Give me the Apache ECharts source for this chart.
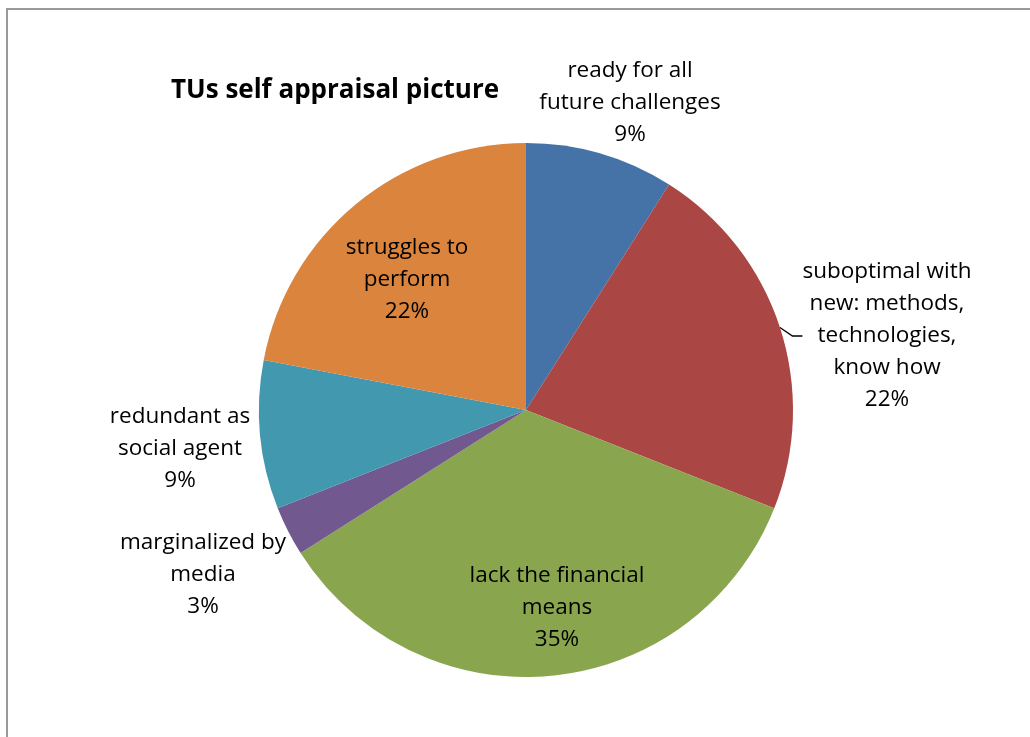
<!DOCTYPE html>
<html>
<head>
<meta charset="utf-8">
<script src="https://cdn.jsdelivr.net/npm/echarts@6/dist/echarts.min.js"></script>
<style>html,body{margin:0;padding:0;background:#fff;}#c{width:1030px;height:737px;}</style>
</head>
<body>
<div id="c"></div>
<script>
const categories = [
  'ready for all\nfuture challenges',
  'suboptimal with\nnew: methods,\ntechnologies,\nknow how',
  'lack the financial\nmeans',
  'marginalized by\nmedia',
  'redundant as\nsocial agent',
  'struggles to\nperform'
];
const values = [9, 22, 35, 3, 9, 22];
const colors = ['#4572A7', '#AA4643', '#89A54E', '#71588F', '#4198AF', '#DB843D'];
// label anchor positions (label layout only)
const labelPos = [[630, 103], [887, 336], [557, 608], [203, 575], [180, 449], [407, 280]];

const chart = echarts.init(document.getElementById('c'));
chart.setOption({
  backgroundColor: '#fff',
  animation: false,
  title: {
    text: 'TUs self appraisal picture',
    left: 166, top: 73,
    textStyle: { fontFamily: 'Open Sans', fontWeight: 'bold', fontSize: 26, color: '#000' }
  },
  graphic: [{
    type: 'rect', shape: { x: 7, y: 9, width: 1100, height: 800 },
    style: { fill: 'none', stroke: '#9a9a9a', lineWidth: 2 }, silent: true
  }],
  series: [{
    type: 'pie',
    center: [526, 410],
    radius: 267,
    startAngle: 90,
    clockwise: true,
    data: categories.map((n, i) => ({
      name: n, value: values[i],
      itemStyle: { color: colors[i] },
      labelLine: { show: i === 1 }
    })),
    label: {
      show: true,
      formatter: '{b}\n{d}%',
      fontFamily: 'Open Sans',
      fontSize: 22.5,
      lineHeight: 32,
      color: '#000',
      align: 'center'
    },
    labelLine: { lineStyle: { color: '#000', width: 1.3 }, length: 8, length2: 10 },
    labelLayout: function (p) {
      const pos = labelPos[p.dataIndex];
      return { x: pos[0], y: pos[1], align: 'center', verticalAlign: 'middle' };
    }
  }]
});
</script>
</body>
</html>
